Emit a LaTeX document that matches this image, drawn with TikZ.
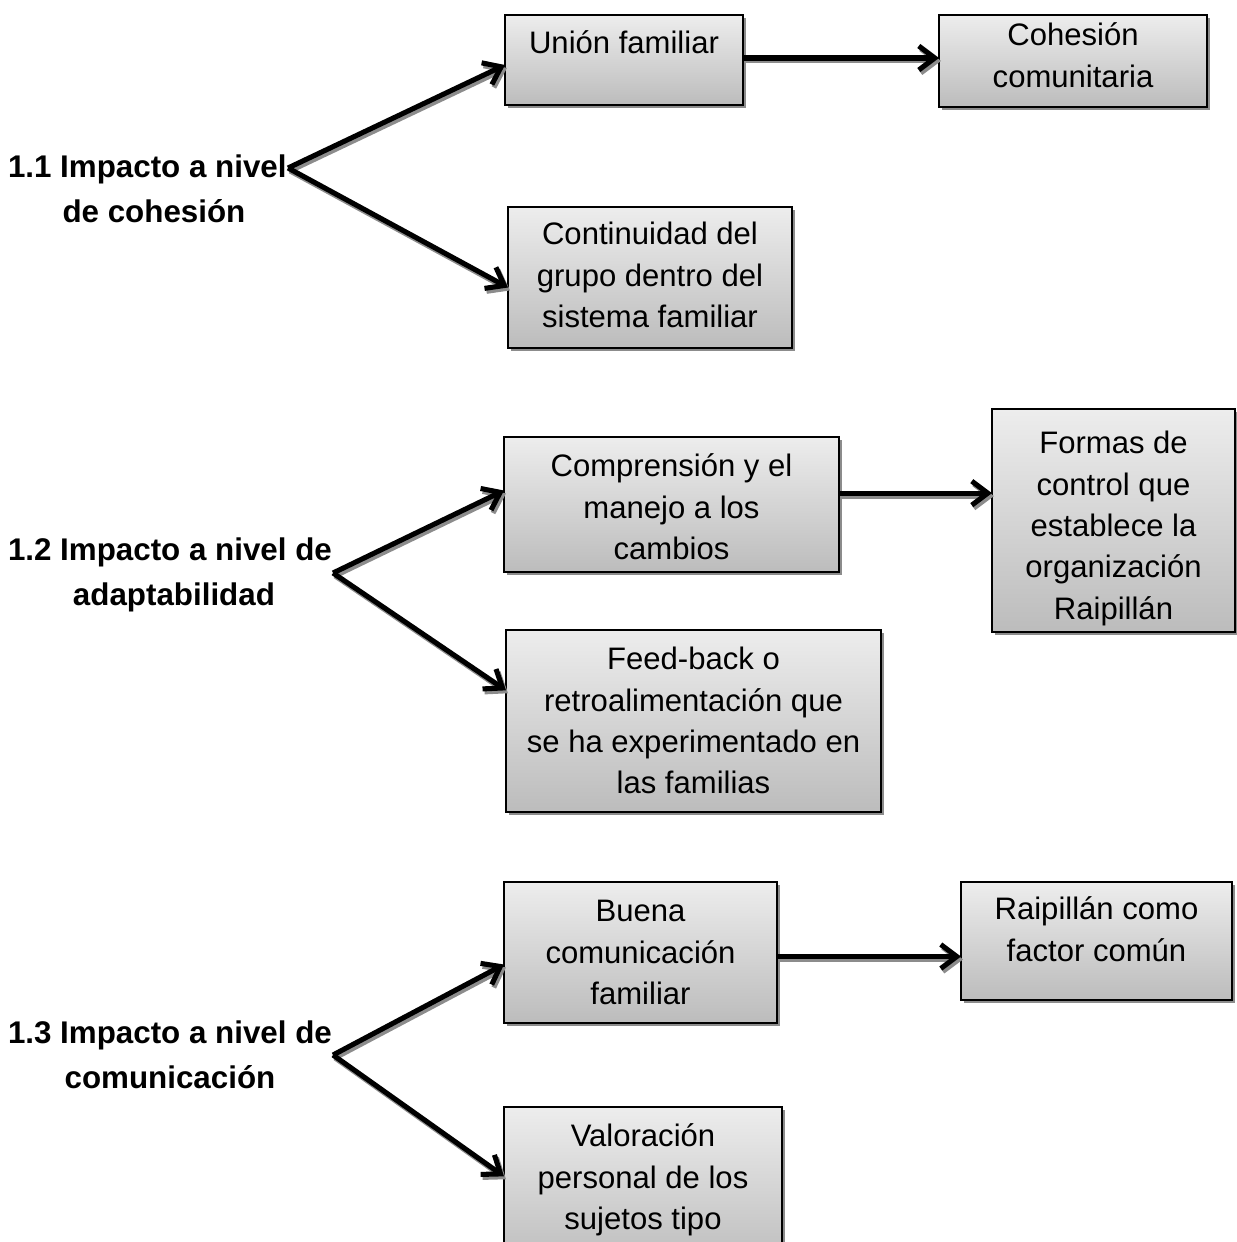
\documentclass[tikz,border=0pt]{standalone}
\usepackage{fontspec}
\setmainfont{Liberation Sans}
\usetikzlibrary{arrows.meta,shadows,calc}
\newlength\pxu \setlength\pxu{0.75pt}
% width px, height px, top skip px, text
\newcommand\bxt[4]{\parbox[c][#2\pxu][t]{#1\pxu}{\centering\vspace*{#3\pxu}\strut #4\par}}
\newcommand\linkto[2]{\draw[connshd] #1 -- #2; \draw[conn] #1 -- #2;}
\definecolor{boxtop}{RGB}{237,237,237}
\definecolor{boxbot}{RGB}{188,188,188}
\definecolor{shd}{RGB}{140,140,140}
\begin{document}
\begin{tikzpicture}[x=0.75pt,y=-0.75pt,
  every node/.style={font=\fontsize{23.3pt}{31pt}\selectfont, inner sep=0pt, outer sep=0pt},
  bx/.style={draw=black, line width=1.2pt, top color=boxtop, bottom color=boxbot, anchor=north west,
    drop shadow={shadow xshift=2pt, shadow yshift=-2.5pt, fill=shd, opacity=1}},
  lbl/.style={font=\fontsize{23.5pt}{34pt}\selectfont\bfseries, align=center, anchor=west},
  conn/.style={line width=3.8pt, black, -{Straight Barb[length=12pt,width=18pt]}},
  connshd/.style={line width=3.8pt, shd, -{Straight Barb[length=12pt,width=18pt]},
    transform canvas={shift={(1.5pt,-2.2pt)}}},
]
\useasboundingbox (0,0) rectangle (1237,1242);
\clip (0,0) rectangle (1237,1242);

% boxes
\node[bx] (A) at (505,15) {\bxt{238}{90}{10}{Unión familiar}};
\node[bx] (B) at (939,15) {\bxt{268}{92}{2}{Cohesión\\comunitaria}};
\node[bx] (C) at (508,207) {\bxt{284}{141}{9}{Continuidad del\\grupo dentro del\\sistema familiar}};
\node[bx] (D) at (504,437) {\bxt{335}{135}{11}{Comprensión y el\\manejo a los\\cambios}};
\node[bx] (E) at (992,409) {\bxt{243}{223}{16}{Formas de\\control que\\establece la\\organización\\Raipillán}};
\node[bx] (F) at (506,630) {\bxt{375}{182}{11}{Feed-back o\\retroalimentación que\\se ha experimentado en\\las familias}};
\node[bx] (G) at (504,882) {\bxt{273}{141}{11}{Buena\\comunicación\\familiar}};
\node[bx] (H) at (961,882) {\bxt{271}{118}{9}{Raipillán como\\factor común}};
\node[bx] (I) at (504,1107) {\bxt{278}{160}{11}{Valoración\\personal de los\\sujetos tipo}};

% labels
\node[lbl] (L1) at (8,189) {1.1 Impacto a nivel\\\hspace*{10pt}de cohesión};
\node[lbl] (L2) at (8,575) {1.2 Impacto a nivel de\\\hspace*{6pt}adaptabilidad};
\node[lbl] (L3) at (8,1055) {1.3 Impacto a nivel de\\comunicación};

% branch points
\coordinate (v1) at (288,168);
\coordinate (v2) at (333,573);
\coordinate (v3) at (333,1055);

% connectors
\linkto{(v1)}{([yshift=-3.75pt]A.west)}
\linkto{(v1)}{([yshift=-7.5pt]C.west)}
\linkto{([yshift=1.5pt]A.east)}{([yshift=1.5pt]A.east -| B.west)}
\linkto{(v2)}{([yshift=10.5pt]D.west)}
\linkto{(v2)}{([yshift=23pt]F.west)}
\linkto{([yshift=8.5pt]D.east)}{([yshift=8.5pt]D.east -| E.west)}
\linkto{(v3)}{([yshift=-9pt]G.west)}
\linkto{(v3)}{([yshift=8pt]I.west)}
\linkto{([yshift=-3pt]G.east)}{([yshift=-3pt]G.east -| H.west)}
\end{tikzpicture}
\end{document}
